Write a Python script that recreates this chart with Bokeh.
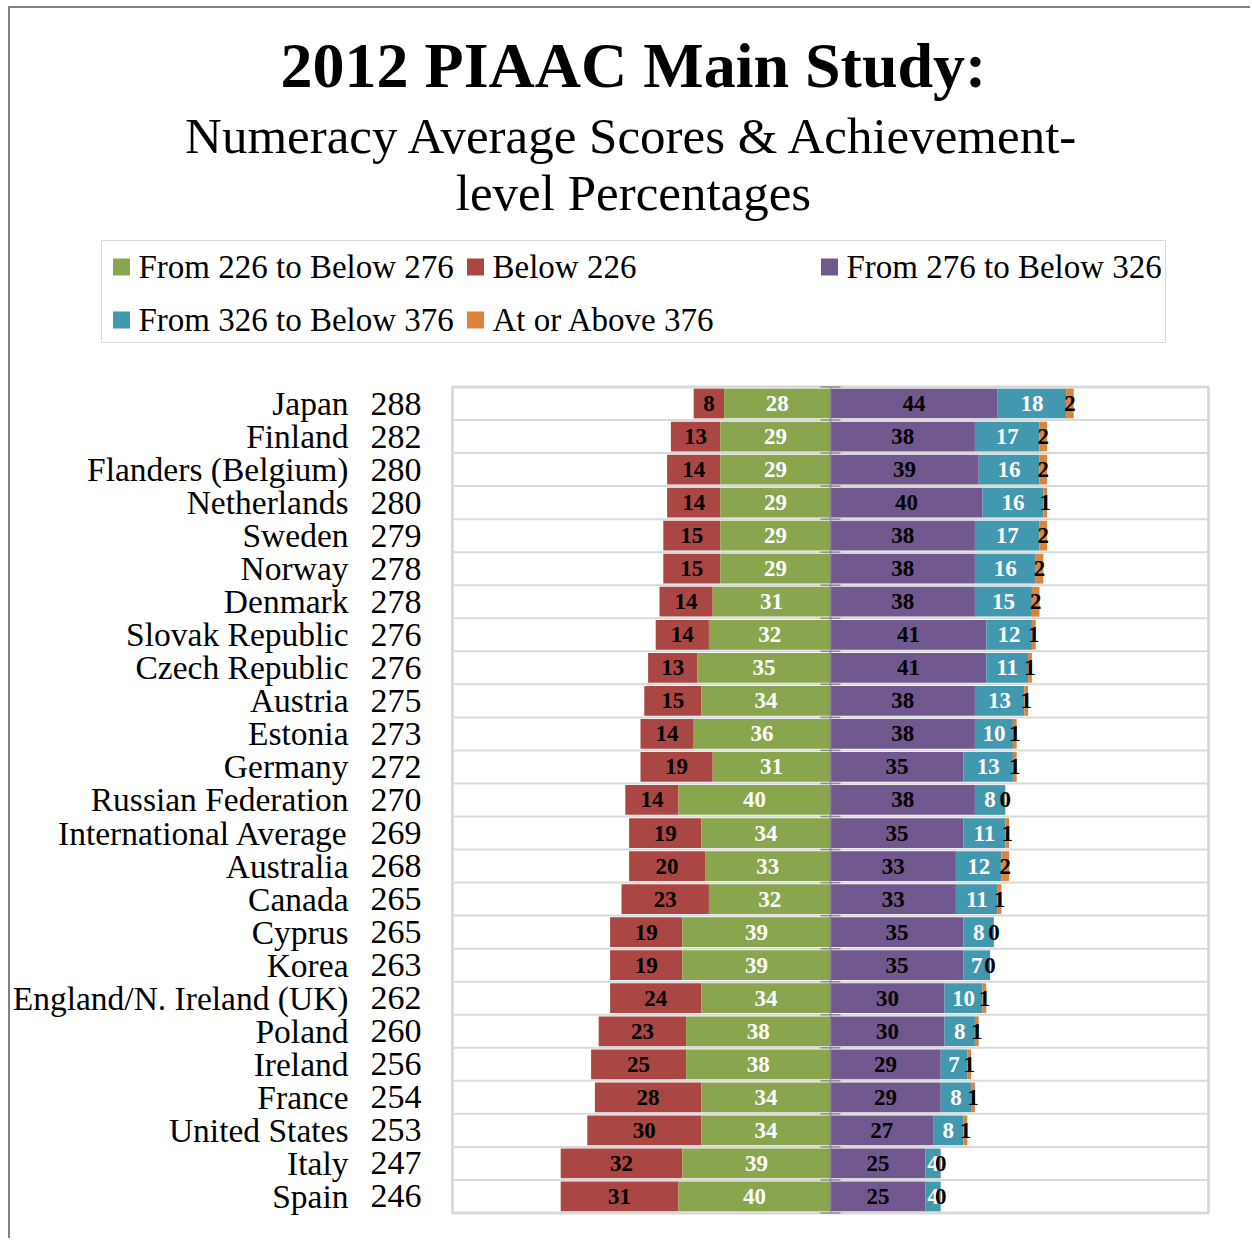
from bokeh.plotting import figure
from bokeh.models import Range1d
from bokeh.embed import file_html
from bokeh.resources import INLINE
from bokeh.core.properties import value

countries = ["Japan", "Finland", "Flanders (Belgium)", "Netherlands", "Sweden", "Norway",
             "Denmark", "Slovak Republic", "Czech Republic", "Austria", "Estonia", "Germany",
             "Russian Federation", "International Average", "Australia", "Canada", "Cyprus",
             "Korea", "England/N. Ireland (UK)", "Poland", "Ireland", "France", "United States",
             "Italy", "Spain"]
scores = [288, 282, 280, 280, 279, 278, 278, 276, 276, 275, 273, 272, 270, 269, 268, 265,
          265, 263, 262, 260, 256, 254, 253, 247, 246]
below_226 = [8, 13, 14, 14, 15, 15, 14, 14, 13, 15, 14, 19, 14, 19, 20, 23, 19, 19, 24, 23,
             25, 28, 30, 32, 31]
from_226_to_276 = [28, 29, 29, 29, 29, 29, 31, 32, 35, 34, 36, 31, 40, 34, 33, 32, 39, 39, 34,
                   38, 38, 34, 34, 39, 40]
from_276_to_326 = [44, 38, 39, 40, 38, 38, 38, 41, 41, 38, 38, 35, 38, 35, 33, 33, 35, 35, 30,
                   30, 29, 29, 27, 25, 25]
from_326_to_376 = [18, 17, 16, 16, 17, 16, 15, 12, 11, 13, 10, 13, 8, 11, 12, 11, 8, 7, 10, 8,
                   7, 8, 8, 4, 4]
at_or_above_376 = [2, 2, 2, 1, 2, 2, 2, 1, 1, 1, 1, 1, 0, 1, 2, 1, 0, 0, 1, 1, 1, 1, 1, 0, 0]

legend_labels = ["From 226 to Below 276", "Below 226", "From 276 to Below 326",
                 "From 326 to Below 376", "At or Above 376"]

C_RED = "#AA4643"
C_GREEN = "#89A54E"
C_PURPLE = "#71588F"
C_TEAL = "#4198AF"
C_ORANGE = "#DB843D"
C_AXIS = "#8c8c8c"
C_GRID = "#d9d9d9"

FONT = "Liberation Serif"
W, H = 1250, 1238
ZERO_PX = 830       # pixel x of the value 0
PX_PER_UNIT = 3.8   # horizontal scale
ROW0_PX = 403       # pixel y of the first row
ROW_PX = 33.04      # row pitch


def X(px):
    """pixel x -> data x"""
    return (px - ZERO_PX) / PX_PER_UNIT


def Y(py):
    """pixel y -> data y (row units)"""
    return (py - ROW0_PX) / ROW_PX


p = figure(width=W, height=H,
           x_range=Range1d(X(0), X(W)),
           y_range=Range1d(Y(H), Y(0)),
           output_backend="svg", toolbar_location=None, min_border=0,
           x_axis_type=None, y_axis_type=None)
p.grid.visible = False
p.outline_line_color = None
p.background_fill_color = "white"

# outer chart-area border (left and top)
p.segment(x0=[X(8.5), X(8)], y0=[Y(6), Y(6.5)], x1=[X(8.5), X(W)], y1=[Y(H), Y(6.5)],
          line_color="#808080", line_width=2)

# ---------------- title ----------------
p.text(x=[X(633)], y=[Y(65)], text=["2012 PIAAC Main Study:"], text_font=value(FONT),
       text_font_size="64px", text_font_style="bold", text_align="center",
       text_baseline="middle", text_color="black")
p.text(x=[X(633), X(633)], y=[Y(135), Y(192)],
       text=["Numeracy Average Scores & Achievement-", "level Percentages"],
       text_font=value(FONT), text_font_size="51px", text_align="center",
       text_baseline="middle", text_color="black")

# ---------------- legend ----------------
p.quad(left=[X(101)], right=[X(1165)], top=[Y(240)], bottom=[Y(342)],
       fill_color=None, line_color=C_GRID, line_width=1)
leg_colors = [C_GREEN, C_RED, C_PURPLE, C_TEAL, C_ORANGE]
leg_sq_x = [X(121), X(475), X(829), X(121), X(475)]
leg_sq_y = [Y(266.5), Y(266.5), Y(266.5), Y(319.5), Y(319.5)]
leg_tx_x = [X(138), X(492), X(846), X(138), X(492)]
leg_tx_y = [Y(266), Y(266), Y(266), Y(319), Y(319)]
p.scatter(x=leg_sq_x, y=leg_sq_y, marker="square", size=17, fill_color=leg_colors,
          line_color=None)
p.text(x=leg_tx_x, y=leg_tx_y, text=legend_labels, text_font=value(FONT),
       text_font_size="33px", text_align="left", text_baseline="middle",
       text_color="black")

# ---------------- chart ----------------
n = len(countries)
ys = list(range(n))
XMIN, XMAX = -99.5, 99.5

# row separators and plot-area border
bounds = [i - 0.5 for i in range(n + 1)]
p.segment(x0=[XMIN] * (n - 1), x1=[XMAX] * (n - 1), y0=bounds[1:-1], y1=bounds[1:-1],
          line_color=C_GRID, line_width=2)
p.quad(left=[XMIN], right=[XMAX], top=[bounds[0]], bottom=[bounds[-1]],
       fill_color=None, line_color=C_GRID, line_width=3)

# segment extents
g_left = [-g for g in from_226_to_276]
r_left = [-(b + g) for b, g in zip(below_226, from_226_to_276)]
p_right = list(from_276_to_326)
t_right = [a + t for a, t in zip(from_276_to_326, from_326_to_376)]
o_right = [a + t + o for a, t, o in zip(from_276_to_326, from_326_to_376, at_or_above_376)]
zeros = [0] * n

BAR_H = 0.9
p.hbar(y=ys, left=r_left, right=g_left, height=BAR_H, fill_color=C_RED, line_color=None)
p.hbar(y=ys, left=g_left, right=zeros, height=BAR_H, fill_color=C_GREEN, line_color=None)
p.hbar(y=ys, left=zeros, right=p_right, height=BAR_H, fill_color=C_PURPLE, line_color=None)
p.hbar(y=ys, left=p_right, right=t_right, height=BAR_H, fill_color=C_TEAL, line_color=None)
p.hbar(y=ys, left=t_right, right=o_right, height=BAR_H, fill_color=C_ORANGE, line_color=None)

# center (category) axis with cross ticks
p.segment(x0=[0], x1=[0], y0=[bounds[0]], y1=[bounds[-1]], line_color=C_AXIS, line_width=1.5)
TICK = 10 / PX_PER_UNIT
p.segment(x0=[-TICK] * len(bounds), x1=[TICK] * len(bounds), y0=bounds, y1=bounds,
          line_color=C_AXIS, line_width=1.5)


# data labels
def labels(x0, x1, vals, color):
    xs = [(a + b) / 2 for a, b in zip(x0, x1)]
    p.text(x=xs, y=ys, text=[str(v) for v in vals], text_font=value(FONT),
           text_font_size="23px", text_font_style="bold", text_align="center",
           text_baseline="middle", text_color=color)


labels(r_left, g_left, below_226, "black")
labels(g_left, zeros, from_226_to_276, "white")
labels(zeros, p_right, from_276_to_326, "black")
labels(p_right, t_right, from_326_to_376, "white")
labels(t_right, o_right, at_or_above_376, "black")

# category labels: country names and average scores
p.text(x=[X(348)] * n, y=ys, text=countries, text_font=value(FONT), text_font_size="33.5px",
       text_align="right", text_baseline="middle", text_color="black")
p.text(x=[X(370)] * n, y=ys, text=[str(s) for s in scores], text_font=value(FONT),
       text_font_size="34px", text_align="left", text_baseline="middle", text_color="black")

open("out.html", "w").write(file_html(p, INLINE))
